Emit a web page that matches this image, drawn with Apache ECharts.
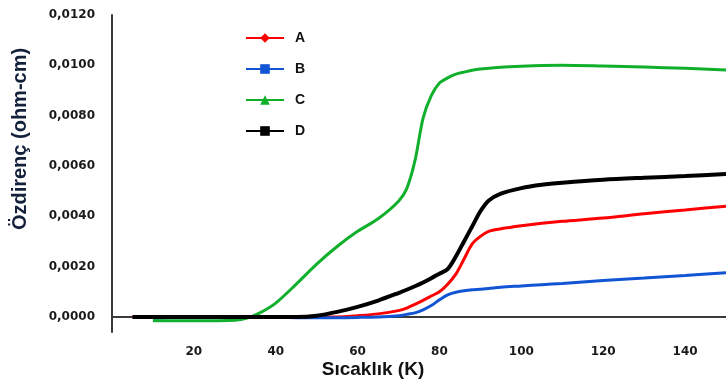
<!DOCTYPE html>
<html>
<head>
<meta charset="utf-8">
<script src="https://cdn.jsdelivr.net/npm/echarts@6/dist/echarts.min.js"></script>
<style>
  html, body { margin: 0; padding: 0; background: #fff; }
  #chart { width: 726px; height: 385px; }
</style>
</head>
<body>
<div id="chart"></div>
<script>
// sıcaklık (K)
const temps = [5, 10, 20, 30, 33, 36, 40, 45, 50, 55, 60, 65, 70, 72, 74, 76, 78, 80, 82, 84, 86, 88, 90, 92, 95, 100, 105, 110, 120, 130, 140, 150];

// özdirenç (ohm-cm)
const rhoA = [0, 0, 0, 0, 0, 0, 0, 0, 0, 0, 0.00005, 0.00012, 0.00025, 0.00035, 0.0005, 0.00066, 0.00083, 0.001, 0.0013, 0.0017, 0.0023, 0.0029, 0.0032, 0.0034, 0.0035, 0.00362, 0.00372, 0.0038, 0.00393, 0.0041, 0.00425, 0.0044];
const rhoB = [null, -0.00005, 0, 0, 0, 0, 0, -0.00003, -0.00003, -0.00003, -0.00002, 0, 0.00005, 0.0001, 0.00016, 0.00028, 0.00045, 0.00068, 0.00088, 0.00098, 0.00104, 0.00108, 0.0011, 0.00113, 0.00118, 0.00123, 0.00128, 0.00133, 0.00145, 0.00155, 0.00165, 0.00176];
const rhoC = [null, -0.00015, -0.00015, -0.00013, -0.00005, 0.00015, 0.00055, 0.0013, 0.0021, 0.0028, 0.0034, 0.0039, 0.0046, 0.0051, 0.0062, 0.0079, 0.0088, 0.0093, 0.0095, 0.00965, 0.00973, 0.0098, 0.00985, 0.00988, 0.00992, 0.00996, 0.00999, 0.01, 0.00997, 0.00993, 0.00988, 0.00981];
const rhoD = [0, 0, 0, 0, 0, 0, 0, 0, 0.00005, 0.0002, 0.0004, 0.00065, 0.00095, 0.00108, 0.00122, 0.00137, 0.00154, 0.00172, 0.0019, 0.0024, 0.003, 0.0036, 0.0042, 0.00462, 0.0049, 0.00512, 0.00525, 0.00533, 0.00545, 0.00553, 0.0056, 0.00568];

const xTicks = [20, 40, 60, 80, 100, 120, 140];
const yTicks = [0, 0.002, 0.004, 0.006, 0.008, 0.010, 0.012];

const pairs = vals => temps.map((t, i) => [t, vals[i]]);

const chart = echarts.init(document.getElementById('chart'));

const axisFont = {
  fontFamily: 'DejaVu Sans',
  fontWeight: 'bold',
  fontSize: 12,
  color: '#1a1a1a'
};

const lineSeries = (name, vals, color, symbol, width) => ({
  name: name,
  type: 'line',
  data: pairs(vals),
  smooth: 0.3,
  symbol: symbol,
  symbolSize: 10,
  showSymbol: false,
  connectNulls: false,
  itemStyle: { color: color },
  lineStyle: { color: color, width: width }
});

const option = {
  animation: false,
  backgroundColor: '#fff',
  grid: { left: 112, right: 0, top: 15, bottom: 53 },
  legend: {
    orient: 'vertical',
    left: 245,
    top: 31,
    itemWidth: 38,
    itemHeight: 12,
    itemGap: 17,
    padding: 0,
    data: ['A', 'B', 'C', 'D'],
    textStyle: {
      fontFamily: 'Liberation Sans',
      fontWeight: 'bold',
      fontSize: 14,
      color: '#111',
      padding: [0, 0, 0, 6]
    }
  },
  xAxis: {
    type: 'value',
    min: 0,
    max: 150,
    axisLine: { onZero: true, lineStyle: { color: '#3a3a3a', width: 2 } },
    axisTick: { show: false },
    splitLine: { show: false },
    axisLabel: Object.assign({ customValues: xTicks, margin: 14 }, axisFont)
  },
  yAxis: {
    type: 'value',
    min: -0.0006,
    max: 0.012,
    axisLine: { show: true, lineStyle: { color: '#3a3a3a', width: 2 } },
    axisTick: { show: false },
    splitLine: { show: false },
    axisLabel: Object.assign({
      customValues: yTicks,
      margin: 17,
      formatter: v => v.toFixed(4).replace('.', ',')
    }, axisFont)
  },
  graphic: [
    {
      type: 'text',
      x: 20,
      y: 139,
      rotation: Math.PI / 2,
      style: {
        text: 'Özdirenç (ohm-cm)',
        fontFamily: 'Liberation Sans',
        fontWeight: 'bold',
        fontSize: 20,
        fill: '#14213a',
        align: 'center',
        verticalAlign: 'middle'
      }
    },
    {
      type: 'text',
      x: 373,
      y: 370,
      style: {
        text: 'Sıcaklık (K)',
        fontFamily: 'Liberation Sans',
        fontWeight: 'bold',
        fontSize: 19,
        fill: '#111',
        align: 'center',
        verticalAlign: 'middle'
      }
    }
  ],
  series: [
    lineSeries('A', rhoA, '#ff0000', 'diamond', 3),
    lineSeries('B', rhoB, '#1155d4', 'rect', 3),
    lineSeries('C', rhoC, '#10b02c', 'triangle', 3),
    lineSeries('D', rhoD, '#000000', 'rect', 4)
  ]
};

chart.setOption(option);
</script>
</body>
</html>
